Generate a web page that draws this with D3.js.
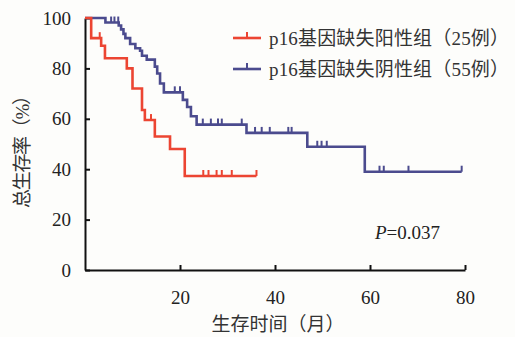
<!DOCTYPE html>
<meta charset="utf-8">
<style>
body { margin: 0; background: #fdfdfb; }
svg { display: block; }
.num { font-family: "Liberation Serif", "Times New Roman", serif; font-size: 19px; fill: #222; }
.cjk { font-family: "Liberation Serif", "Noto Sans CJK SC", sans-serif; font-size: 19px; fill: #333; }
.axis path, .axis line { stroke: #111; stroke-width: 2px; }
</style>
<svg width="515" height="337"></svg>
<script src="https://cdn.jsdelivr.net/npm/d3@7"></script>
<script>

// p16 positive group (25 cases): step times (months) and survival (%)
var redTimes = [0, 1.3, 3.4, 4.2, 8.8, 10, 12, 12.6, 14.7, 17.9, 21, 36.1]
var redSurv  = [100, 92, 89, 84, 80, 72, 63.5, 59.5, 53, 48, 37.3, 37.3]
var redCensor = [3.1, 13.9, 24.9, 26, 27.7, 28.8, 30.9, 36.1]

// p16 negative group (55 cases)
var blueTimes = [0, 4.3, 7.1, 7.6, 8.1, 8.5, 9.5, 10.6, 11.6, 12, 13, 14.7, 15.2, 15.8, 16.6, 20.6, 21.5, 22.3, 23.5, 34, 46.8, 58.9, 79.3]
var blueSurv  = [100, 98.2, 97, 95.5, 93.7, 92, 89.7, 88, 87, 85, 83.5, 80.7, 78, 74, 70.5, 67.5, 64.7, 61, 57.7, 54.4, 48.9, 39, 39]
var blueCensor = [5.5, 6.2, 7.0, 18.9, 20, 24.8, 26.5, 28, 28.8, 33, 35.8, 37.2, 38.9, 42.8, 43.5, 48.9, 49.8, 50.9, 62, 62.9, 68.1, 79.3]

var xTicks = [20, 40, 60, 80]
var yTicks = [0, 20, 40, 60, 80, 100]
var legendLabels = ["p16基因缺失阳性组（25例）", "p16基因缺失阴性组（55例）"]
var colors = ["#ec4532", "#4b4b8e"]

var svg = d3.select("svg")

var x = d3.scaleLinear().domain([0, 80]).range([85, 465])
var y = d3.scaleLinear().domain([0, 100]).range([270, 18])

// axes
svg.append("g")
    .attr("class", "axis")
    .attr("transform", "translate(85,0)")
    .call(d3.axisLeft(y).tickValues(yTicks).tickSizeInner(-5).tickSizeOuter(0).tickPadding(14))
    .call(function(g) {
      g.selectAll("text").attr("class", "num").attr("font-size", null).attr("font-family", null)
    })

svg.append("g")
    .attr("class", "axis")
    .attr("transform", "translate(0,270)")
    .call(d3.axisBottom(x).tickValues(xTicks).tickSizeInner(-5).tickSizeOuter(0).tickPadding(21))
    .call(function(g) {
      g.selectAll("text").attr("class", "num").attr("font-size", null).attr("font-family", null)
    })

svg.selectAll(".axis").attr("fill", null)

// axis titles
svg.append("text")
    .attr("class", "cjk")
    .attr("transform", "translate(29,147) rotate(-90)")
    .attr("text-anchor", "middle")
    .attr("textLength", 122)
    .attr("lengthAdjust", "spacing")
    .text("总生存率（%）")

svg.append("text")
    .attr("class", "cjk")
    .attr("x", 278).attr("y", 324)
    .attr("dy", "0.35em")
    .attr("text-anchor", "middle")
    .text("生存时间（月）")

// curves
var line = d3.line()
    .x(function(d) { return x(d[0]) })
    .y(function(d) { return y(d[1]) })
    .curve(d3.curveStepAfter)

function survAt(times, surv, t) {
  var i = d3.bisectRight(times, t) - 1
  return surv[Math.max(i, 0)]
}

var groups = [
  {times: redTimes, surv: redSurv, censor: redCensor, color: colors[0]},
  {times: blueTimes, surv: blueSurv, censor: blueCensor, color: colors[1]}
]

groups.slice().reverse().forEach(function(g) {
  var pts = g.times.map(function(t, i) { return [t, g.surv[i]] })
  svg.append("path")
      .datum(pts)
      .attr("d", line)
      .attr("fill", "none")
      .attr("stroke", g.color)
      .attr("stroke-width", 2.6)

  svg.selectAll(null)
      .data(g.censor)
      .enter().append("line")
      .attr("x1", function(d) { return x(d) })
      .attr("x2", function(d) { return x(d) })
      .attr("y1", function(d) { return y(survAt(g.times, g.surv, d)) })
      .attr("y2", function(d) { return y(survAt(g.times, g.surv, d)) - 6 })
      .attr("stroke", g.color)
      .attr("stroke-width", 2)
})

// legend
var legend = svg.selectAll(".legend")
    .data(legendLabels)
    .enter().append("g")
    .attr("class", "legend")
    .attr("transform", function(d, i) { return "translate(0," + (38 + i * 31) + ")" })

legend.append("line")
    .attr("x1", 233).attr("x2", 261)
    .attr("stroke", function(d, i) { return colors[i] })
    .attr("stroke-width", 2.6)
legend.append("line")
    .attr("x1", 247).attr("x2", 247).attr("y1", 0).attr("y2", -6)
    .attr("stroke", function(d, i) { return colors[i] })
    .attr("stroke-width", 2)
legend.append("text")
    .attr("class", "cjk")
    .attr("x", 269)
    .attr("dy", "0.35em")
    .attr("textLength", 240)
    .attr("lengthAdjust", "spacing")
    .text(function(d) { return d })

// p value
var p = svg.append("text")
    .attr("class", "num")
    .attr("x", 375).attr("y", 232)
    .attr("dy", "0.35em")
p.append("tspan").style("font-style", "italic").text("P")
p.append("tspan").text("=0.037")

</script>
